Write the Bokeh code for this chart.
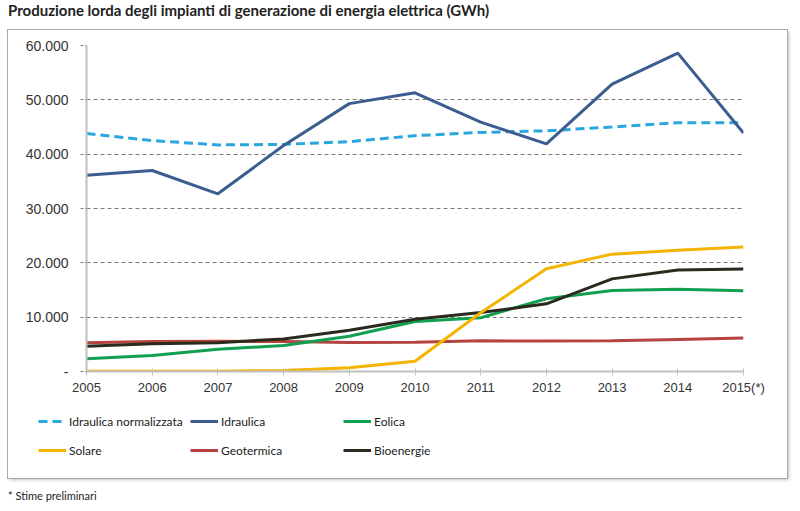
from bokeh.plotting import figure
from bokeh.models import Range1d, Legend, LegendItem, Div, FixedTicker
from bokeh.layouts import column
from bokeh.embed import file_html
from bokeh.resources import INLINE

years = [2005, 2006, 2007, 2008, 2009, 2010, 2011, 2012, 2013, 2014, 2015]
year_labels = ["2005", "2006", "2007", "2008", "2009", "2010", "2011", "2012", "2013", "2014", "2015(*)"]
idraulica_norm = [43800, 42500, 41700, 41800, 42300, 43400, 44000, 44300, 45000, 45800, 45800]
idraulica = [36100, 37000, 32700, 41600, 49300, 51300, 45900, 41900, 52900, 58600, 43900]
eolica = [2330, 2950, 4100, 4800, 6500, 9200, 9900, 13400, 14900, 15150, 14850]
solare = [30, 35, 40, 190, 680, 1900, 10800, 18900, 21600, 22300, 22900]
geotermica = [5300, 5500, 5550, 5500, 5350, 5400, 5650, 5600, 5650, 5900, 6150]
bioenergie = [4650, 5100, 5300, 6000, 7600, 9600, 10850, 12450, 17050, 18700, 18850]
y_ticks = [0, 10000, 20000, 30000, 40000, 50000, 60000]
y_labels = ["-", "10.000", "20.000", "30.000", "40.000", "50.000", "60.000"]
series_names = ["Idraulica normalizzata", "Idraulica", "Eolica", "Solare", "Geotermica", "Bioenergie"]

FONT = "Liberation Sans"
LFONT = "Lato"
COLORS = {"Idraulica normalizzata": "#2aa7de", "Idraulica": "#3b5d8f", "Eolica": "#10a050",
          "Solare": "#f4b400", "Geotermica": "#b5443f", "Bioenergie": "#2a2a1e"}
DASH = {"Idraulica normalizzata": "9 5"}
W = 3

title = Div(text="Produzione lorda degli impianti di generazione di energia elettrica (GWh)",
            width=780, height=30, margin=(0, 0, 0, 0),
            styles={"font-family": "Lato", "font-weight": "bold", "font-size": "15px",
                    "color": "#222", "line-height": "18px", "padding-top": "1px",
                    "white-space": "nowrap"})

p = figure(width=779, height=371, output_backend="svg", toolbar_location=None,
           x_range=Range1d(2005, 2015), y_range=Range1d(0, 60000),
           min_border_left=78, min_border_right=44, min_border_top=15, min_border_bottom=30,
           margin=(0, 0, 0, 0))
p.outline_line_color = None
p.background_fill_color = "white"
p.border_fill_color = "white"

# axes
p.xaxis.ticker = FixedTicker(ticks=years)
p.xaxis.major_label_overrides = {y: l for y, l in zip(years, year_labels)}
p.xaxis.axis_line_color = "#c0c0c0"
p.xaxis.axis_line_width = 2
p.xaxis.major_tick_line_color = "#c0c0c0"
p.xaxis.major_tick_in = 3
p.xaxis.major_tick_out = 4
p.xaxis.minor_tick_line_color = None
p.xaxis.major_label_standoff = 4
p.xaxis.major_label_text_font = FONT
p.xaxis.major_label_text_font_size = "13px"
p.xaxis.major_label_text_color = "#333333"

p.yaxis.ticker = FixedTicker(ticks=y_ticks)
p.yaxis.major_label_overrides = {t: l for t, l in zip(y_ticks, y_labels)}
p.yaxis.axis_line_color = "#c0c0c0"
p.yaxis.axis_line_width = 2
p.yaxis.major_tick_line_color = "#808080"
p.yaxis.major_tick_line_dash = "3 2"
p.yaxis.major_tick_in = 0
p.yaxis.major_tick_out = 6
p.yaxis.minor_tick_line_color = None
p.yaxis.major_label_standoff = 12
p.yaxis.major_label_text_font = FONT
p.yaxis.major_label_text_font_size = "14px"
p.yaxis.major_label_text_color = "#333333"

p.xgrid.grid_line_color = None
p.ygrid.grid_line_color = "#7a7a7a"
p.ygrid.grid_line_dash = "4 3"
p.ygrid.grid_line_width = 1

series = {
    "Idraulica normalizzata": idraulica_norm,
    "Idraulica": idraulica,
    "Geotermica": geotermica,
    "Eolica": eolica,
    "Bioenergie": bioenergie,
    "Solare": solare,
}
for name, vals in series.items():
    p.line(years, vals, line_color=COLORS[name], line_width=W, line_dash=DASH.get(name, "solid"))

# legend figure (below the chart, inside the same box); its ranges keep the data off-screen
p2 = figure(width=779, height=77, output_backend="svg", toolbar_location=None,
            x_range=Range1d(0, 1), y_range=Range1d(0, 1),
            x_axis_location=None, y_axis_location=None,
            min_border_left=0, min_border_right=0, min_border_top=0, min_border_bottom=0,
            margin=(0, 0, 0, 0))
p2.outline_line_color = None
p2.grid.visible = False
p2.background_fill_color = "white"
p2.border_fill_color = "white"

leg_r = {}
for name in series_names:
    leg_r[name] = p2.line(years, series[name], line_color=COLORS[name], line_width=W,
                          line_dash=DASH.get(name, "solid"))

columns_def = [(series_names[0], series_names[3]), (series_names[1], series_names[4]),
               (series_names[2], series_names[5])]
col_x = [30, 182, 335]
for (a, b), cx in zip(columns_def, col_x):
    lg = Legend(items=[LegendItem(label=a, renderers=[leg_r[a]]),
                       LegendItem(label=b, renderers=[leg_r[b]])],
                location=(cx, 18), orientation="vertical",
                glyph_width=28, glyph_height=20, label_height=20, label_standoff=3,
                spacing=9, padding=0, margin=0,
                label_text_font=LFONT, label_text_font_size="12px", label_text_color="#222222",
                border_line_color=None, background_fill_alpha=0)
    p2.add_layout(lg, "center")

box = column(p, column(p2, spacing=0, margin=(0, 0, 0, 0)), spacing=0, margin=(0, 0, 0, 0),
             styles={"box-shadow": "0 0 0 1px #a9a9a9, 2px 2px 3px rgba(0,0,0,0.25)"})

foot = Div(text="* Stime preliminari", width=300, height=22, margin=(0, 0, 0, 0),
           styles={"font-family": "Lato", "font-size": "11px", "color": "#222",
                   "padding-top": "10px"})

layout = column(title, box, foot, spacing=0, margin=(0, 0, 0, 8))
open("out.html", "w").write(file_html(layout, INLINE))
